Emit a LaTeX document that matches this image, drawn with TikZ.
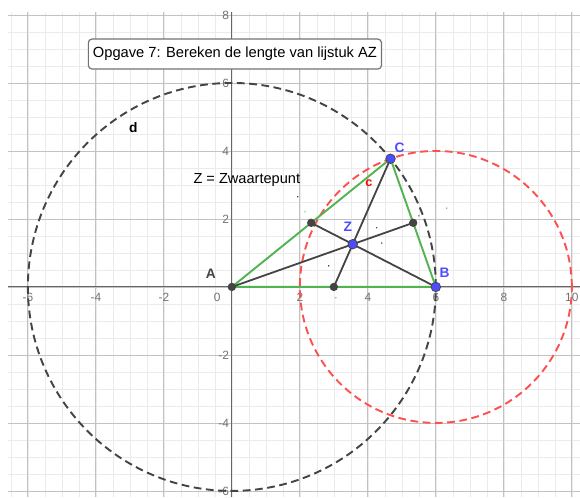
\documentclass[tikz,border=0pt]{standalone}
\usepackage{fontspec}
\setmainfont{Liberation Sans}
\usetikzlibrary{calc}

\definecolor{ggreen}{RGB}{80,180,80}
\definecolor{gred}{RGB}{255,80,80}
\definecolor{gblue}{RGB}{77,77,255}
\definecolor{gdark}{RGB}{68,68,68}

\begin{document}
\begin{tikzpicture}[x=1cm, y=1cm,
    minorgrid/.style={draw=black!8, line width=0.5pt},
    majorgrid/.style={draw=black!24, line width=0.7pt},
    ticklbl/.style={text=black!55, font=\fontsize{10}{12}\selectfont, inner sep=1pt},
    side/.style={ggreen, line width=1.6pt},
    median/.style={gdark, line width=1.5pt},
    circ/.style={line width=1.6pt, dash pattern=on 6.5pt off 3.8pt},
    ptblue/.style={circle, fill=gblue, draw=gdark, line width=0.6pt, minimum size=8pt, inner sep=0pt},
    ptdark/.style={circle, fill=gdark, minimum size=7pt, inner sep=0pt},
    ptlbl/.style={font=\fontsize{11.5}{13}\selectfont\bfseries, inner sep=1pt}]
        % Canvas
        \useasboundingbox (-6.82,-6.18) rectangle (10.24,8.44);
        \fill[white] (-6.82,-6.18) rectangle (10.24,8.44);

        % Grid
        \draw[minorgrid, step=0.5] (-6.59,-6.18) grid (10.24,8.09);
        \draw[majorgrid, step=2] (-6.59,-6.18) grid (10.24,8.09);

        % Axes
        \draw[black!60, line width=0.8pt] (-6.59,0) -- (10.24,0);
        \draw[black!60, line width=0.8pt] (0,-6.18) -- (0,8.09);

        % Tick labels
        \foreach \x in {-6,-4,-2,2,4,6,8,10}
            \node[ticklbl] (tx\x) at (\x,-0.3) {\x};
        \foreach \y in {-6,-4,-2,2,4,6,8}
            \node[ticklbl, left] (ty\y) at (-0.04,\y) {\y};
        \node[ticklbl] (t0) at (-0.43,-0.3) {0};

        % Points of the triangle
        \coordinate (A) at (0,0);
        \coordinate (B) at (6,0);
        \coordinate (C) at (4.6667,3.7712);
        \coordinate (Mab) at ($(A)!0.5!(B)$);
        \coordinate (Mac) at ($(A)!0.5!(C)$);
        \coordinate (Mbc) at ($(B)!0.5!(C)$);
        \coordinate (Z) at ($1/3*(A)+1/3*(B)+1/3*(C)$);

        % Circles d and c
        \draw[circ, gdark] (A) circle (6);
        \draw[circ, gred] (B) circle (4);
        \node[font=\fontsize{11.5}{13}\selectfont\bfseries] (dlbl) at (-2.9,4.7) {d};
        \node[text=red, font=\fontsize{10.5}{12}\selectfont\bfseries] (clbl) at (4.03,3.06) {c};

        % Triangle sides
        \draw[side] (A) -- (B) -- (C) -- cycle;

        % Medians
        \draw[median] (A) -- (Mbc);
        \draw[median] (B) -- (Mac);
        \draw[median] (C) -- (Mab);

        % Leftover dots
        \foreach \p in {(2.15,2.21),(3.06,-0.32),(6.32,2.32)}
            \fill[ggreen] \p circle (0.6pt);
        \foreach \p in {(1.94,2.65),(4.26,1.74),(4.41,1.29),(2.85,0.62),(5.5,2.09)}
            \fill[black] \p circle (0.6pt);

        % Point markers
        \node[ptdark] (pA) at (A) {};
        \node[ptdark] (pMab) at (Mab) {};
        \node[ptdark] (pMac) at (Mac) {};
        \node[ptdark] (pMbc) at (Mbc) {};
        \node[ptblue] (pB) at (B) {};
        \node[ptblue] (pC) at (C) {};
        \node[ptblue] (pZ) at (Z) {};

        % Point labels
        \node[ptlbl, text=gdark] (lA) at (-0.62,0.38) {A};
        \node[ptlbl, text=gblue] (lB) at (6.26,0.41) {B};
        \node[ptlbl, text=gblue] (lC) at (4.93,4.1) {C};
        \node[ptlbl, text=gblue] (lZ) at (3.41,1.76) {Z};

        % Texts
        \node[font=\fontsize{12.2}{14}\selectfont] (zw) at (0.44,3.15) {Z = Zwaartepunt};
        \node[draw=black!55, line width=1pt, rounded corners=3pt, fill=white,
              minimum width=8.62cm, minimum height=0.88cm,
              font=\fontsize{12.3}{14}\selectfont] (title) at (0.09,6.85)
              {Opgave 7: Bereken de lengte van lijstuk AZ};
\end{tikzpicture}
\end{document}
